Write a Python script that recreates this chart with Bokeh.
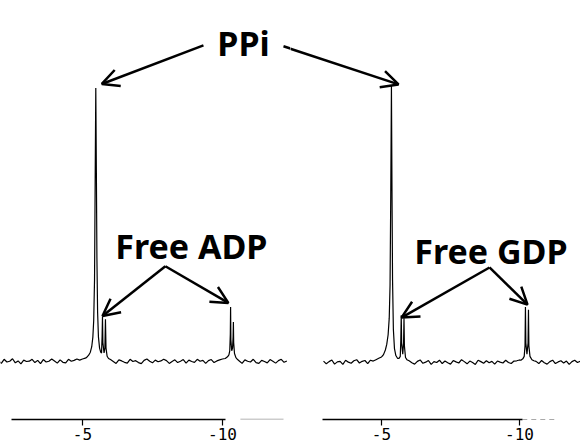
from bokeh.plotting import figure
from bokeh.layouts import row
from bokeh.models import Range1d, FixedTicker, LinearAxis, Arrow, OpenHead, Label
from bokeh.embed import file_html
from bokeh.resources import INLINE

# ---- axis ticks ----
tick_values = [-5, -10]
tick_labels = ["-5", "-10"]

# ---- left spectrum (PPi + free ADP), ppm vs intensity ----
left_ppm_a = [-2.0, -2.1, -2.2, -2.3, -2.4, -2.5, -2.6, -2.7, -2.8, -2.9, -3.0, -3.1, -3.2, -3.3, -3.4, -3.5,
              -3.6, -3.7, -3.8, -3.9, -4.0, -4.1, -4.2, -4.3, -4.4, -4.5, -4.6, -4.7, -4.8, -4.9, -5.0, -5.1]
left_int_a = [0.4, -0.6, 0.9, -0.1, 0.2, 1.1, -0.4, 0.3, -0.8, 0.6, 0.1, 0.2, 0.9, -0.3, 0.5, -0.7,
              0.8, -0.1, 0.2, 1.0, 0.3, -0.5, 0.7, -0.2, -0.4, 0.9, 0.2, 0.5, 1.0, 0.6, 1.0, 1.3]
left_ppm_peak1 = [-5.15, -5.22, -5.28, -5.33, -5.37, -5.40, -5.43, -5.455, -5.475, -5.495, -5.515, -5.54,
                  -5.57, -5.61, -5.65, -5.68, -5.70, -5.714, -5.728, -5.77, -5.80, -5.82, -5.84, -5.88, -5.93]
left_int_peak1 = [1.6, 2.4, 3.5, 5.5, 9, 15, 30, 70, 100, 70, 38, 18,
                  9, 5, 3.5, 3.2, 9, 16.5, 7, 3.2, 5, 15.5, 5, 2.0, 1.2]
left_ppm_b = [-6.0, -6.1, -6.2, -6.3, -6.4, -6.5, -6.6, -6.7, -6.8, -6.9, -7.0, -7.1, -7.2, -7.3, -7.4, -7.5,
              -7.6, -7.7, -7.8, -7.9, -8.0, -8.1, -8.2, -8.3, -8.4, -8.5, -8.6, -8.7, -8.8, -8.9, -9.0, -9.1,
              -9.2, -9.3, -9.4, -9.5, -9.6, -9.7, -9.8, -9.9, -10.0]
left_int_b = [0.8, 0.1, -0.6, 0.7, 0.3, -0.2, -0.5, 0.9, 0.1, 0.4, -0.3, -0.7, 0.5, 1.0, 0.2, -0.4,
              0.6, 0.0, 0.3, 0.9, 0.4, -0.6, 0.1, 0.7, -0.3, 0.2, 0.8, -0.5, 0.6, 0.1, -0.2, 0.9,
              0.2, 0.5, -0.6, 0.4, 0.8, -0.3, 0.3, 0.7, 1.0]
left_ppm_peak2 = [-10.10, -10.18, -10.23, -10.26, -10.28, -10.29, -10.30, -10.33, -10.36, -10.38, -10.39,
                  -10.40, -10.43, -10.48, -10.54]
left_int_peak2 = [1.2, 1.8, 2.5, 4, 10, 20, 8, 4, 5, 9, 14.5,
                  7, 3, 1.5, 0.8]
left_ppm_c = [-10.6, -10.7, -10.8, -10.9, -11.0, -11.1, -11.2, -11.3, -11.4, -11.5, -11.6, -11.7, -11.8,
              -11.9, -12.0, -12.1, -12.2, -12.3]
left_int_c = [0.3, -0.6, 0.7, 0.2, -0.1, 0.9, -0.3, -0.6, 0.5, 0.1, -0.4, 0.8, 0.2,
              -0.5, 0.4, 0.9, -0.2, 0.3]

# ---- right spectrum (PPi + free GDP) ----
right_ppm_a = [-2.9, -3.0, -3.1, -3.2, -3.3, -3.4, -3.5, -3.6, -3.7, -3.8, -3.9, -4.0, -4.1, -4.2, -4.3,
               -4.4, -4.5, -4.6, -4.7, -4.8, -4.9, -5.0]
right_int_a = [0.5, -0.5, 0.3, 0.9, -0.6, 0.2, 0.4, -0.7, 0.8, 0.1, -0.3, 0.6, 1.0, -0.2, 0.4,
               0.7, -0.4, 0.8, 0.5, 1.0, 1.5, 2.0]
right_ppm_peak1 = [-5.05, -5.08, -5.14, -5.19, -5.24, -5.28, -5.31, -5.335, -5.36, -5.38, -5.40, -5.43, -5.47,
                   -5.52, -5.58, -5.64, -5.68, -5.70, -5.715, -5.73, -5.77, -5.80, -5.815, -5.83, -5.87, -5.92]
right_int_peak1 = [2.5, 3.0, 4.5, 6.5, 10, 16, 28, 60, 100, 62, 30, 12, 5,
                   2.5, 1.5, 1.5, 2.2, 8, 17, 7, 3, 7, 16, 6, 1.8, 1.0]
right_ppm_b = [-6.0, -6.1, -6.2, -6.3, -6.4, -6.5, -6.6, -6.7, -6.8, -6.9, -7.0, -7.1, -7.2, -7.3, -7.4, -7.5,
               -7.6, -7.7, -7.8, -7.9, -8.0, -8.1, -8.2, -8.3, -8.4, -8.5, -8.6, -8.7, -8.8, -8.9, -9.0, -9.1,
               -9.2, -9.3, -9.4, -9.5, -9.6, -9.7, -9.8, -9.9, -10.0]
right_int_b = [0.6, -0.1, -0.6, 0.4, 0.9, -0.3, 0.1, 0.7, -0.7, 0.3, 0.0, 0.8, -0.4, 0.5, -0.1, -0.6,
               0.7, 0.2, -0.2, 1.0, 0.3, -0.5, 0.5, 0.0, -0.7, 0.8, 0.3, -0.3, 0.6, -0.1, 0.4, -0.6,
               0.5, 0.1, -0.2, 0.8, 0.0, -0.4, 0.5, 0.6, 0.9]
right_ppm_peak2 = [-10.05, -10.12, -10.17, -10.20, -10.215, -10.23, -10.27, -10.31, -10.325, -10.34, -10.38,
                   -10.45, -10.52]
right_int_peak2 = [0.8, 1.3, 2.2, 6, 20, 7, 3, 7, 19, 6, 2.2,
                   1.0, 0.6]
right_ppm_c = [-10.6, -10.7, -10.8, -10.9, -11.0, -11.1, -11.2, -11.3, -11.4, -11.5, -11.6, -11.7, -11.8,
               -11.9, -12.0, -12.1, -12.2]
right_int_c = [0.4, -0.4, 0.7, -0.1, -0.6, 0.3, 0.8, -0.4, 0.2, 0.6, -0.2, 0.5, -0.7,
               0.3, 0.8, 0.0, 0.4]

left_ppm = left_ppm_a + left_ppm_peak1 + left_ppm_b + left_ppm_peak2 + left_ppm_c
left_int = left_int_a + left_int_peak1 + left_int_b + left_int_peak2 + left_int_c
right_ppm = right_ppm_a + right_ppm_peak1 + right_ppm_b + right_ppm_peak2 + right_ppm_c
right_int = right_int_a + right_int_peak1 + right_int_b + right_int_peak2 + right_int_c

LABEL_FONT = "Noto Sans"


def panel(x_start, x_end, y_start, y_end, border_bottom, bounds):
    p = figure(width=290, height=448,
               x_range=Range1d(x_start, x_end), y_range=Range1d(y_start, y_end),
               output_backend="svg", toolbar_location=None,
               x_axis_location=None, y_axis_location=None,
               min_border_left=0, min_border_right=0, min_border_top=0,
               min_border_bottom=border_bottom)
    p.outline_line_color = None
    p.grid.visible = False
    p.background_fill_color = "white"
    p.border_fill_color = "white"
    axis = LinearAxis(ticker=FixedTicker(ticks=tick_values),
                      major_label_overrides=dict(zip(tick_values, tick_labels)),
                      bounds=bounds,
                      axis_line_color="black", axis_line_width=1.5,
                      major_tick_out=6, major_tick_in=0,
                      minor_tick_out=0, minor_tick_in=0,
                      major_tick_line_color="black", major_tick_line_width=1.2,
                      major_label_standoff=2,
                      major_label_text_font="DejaVu Sans Mono",
                      major_label_text_font_size="16px",
                      major_label_text_color="black")
    p.add_layout(axis, "below")
    return p


def arrow(p, x0, y0, x1, y1, head=True):
    p.add_layout(Arrow(end=OpenHead(size=17, line_width=2.5, line_color="black") if head else None,
                       x_start=x0, y_start=y0, x_end=x1, y_end=y1,
                       line_color="black", line_width=2.5))


def label(p, x, y, text):
    p.add_layout(Label(x=x, y=y, text=text, text_font=LABEL_FONT, text_font_style="bold",
                       text_font_size="34px", text_color="black",
                       text_align="center", text_baseline="alphabetic"))


# ---- left panel ----
pl = panel(-2.071, -12.43, -21.1, 132.0, 27, (-2.46, -10.11))
pl.line(left_ppm, left_int, line_color="black", line_width=1.2)
pl.add_layout(Arrow(end=None, x_start=-10.64, y_start=-21.1, x_end=-12.18, y_end=-21.1,
                    line_color="#9a9a9a", line_width=1.5))
label(pl, -10.75, 116.4, "PPi")
arrow(pl, -9.32, 115.6, -5.69, 101.5)
arrow(pl, -12.18, 115.3, -16.29, 101.5, head=False)
label(pl, -8.89, 42.2, "Free ADP")
arrow(pl, -7.96, 34.9, -5.714, 16.7)
arrow(pl, -7.96, 34.9, -10.21, 21.5)

# ---- right panel ----
pr = panel(-1.703, -12.21, -20.6, 130.7, 29, (-2.86, -10.1))
pr.line(right_ppm, right_int, line_color="black", line_width=1.2)
pr.add_layout(Arrow(end=None, x_start=-10.1, y_start=-20.6, x_end=-11.4, y_end=-20.6,
                    line_color="#555555", line_width=1.2, line_dash="5 4"))
arrow(pr, -1.449, 114.1, -5.616, 100.4)
label(pr, -8.967, 40.4, "Free GDP")
arrow(pr, -8.913, 34.3, -5.725, 16.2)
arrow(pr, -8.913, 34.3, -10.29, 20.9)

layout = row(pl, pr)
open("out.html", "w").write(file_html(layout, INLINE))
